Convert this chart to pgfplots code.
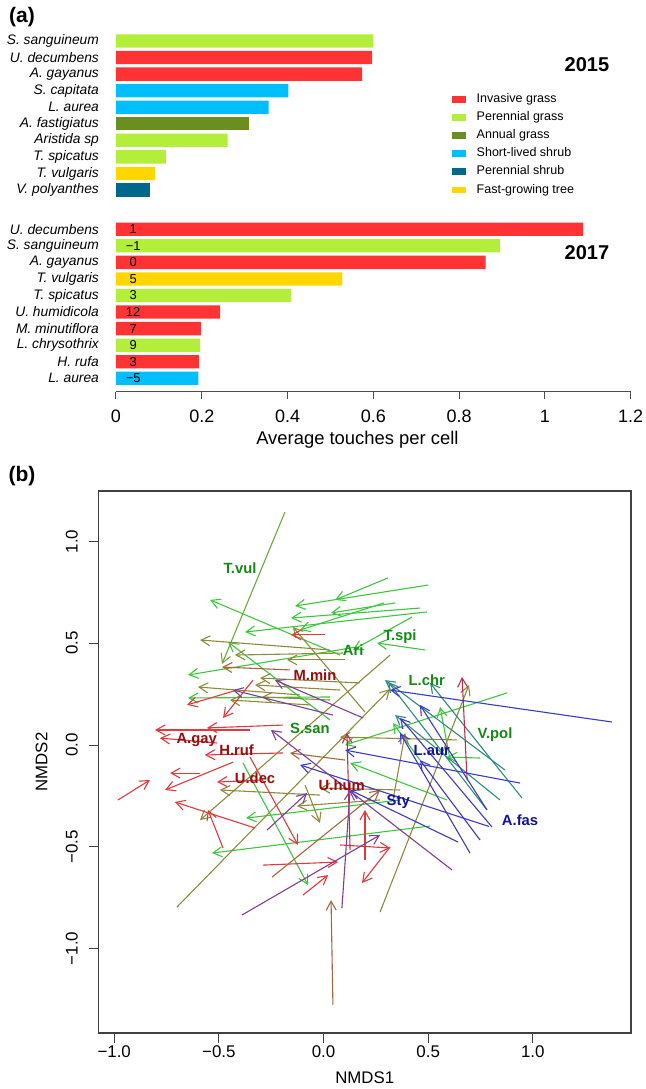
\documentclass[border=0pt]{standalone}
\usepackage{fontspec}
\setmainfont{Liberation Sans}
\usepackage{pgfplots}
\usepackage{pgfplotstable}
\pgfplotsset{compat=1.18}
\usetikzlibrary{arrows.meta}

\definecolor{invasive}{HTML}{FF3333}
\definecolor{pergrass}{HTML}{B3EE3A}
\definecolor{anngrass}{HTML}{6B8E23}
\definecolor{slshrub}{HTML}{00BFFF}
\definecolor{pershrub}{HTML}{00688B}
\definecolor{fasttree}{HTML}{FFD700}

\definecolor{arG}{HTML}{3CC83C}
\definecolor{arGO}{HTML}{70A83E}
\definecolor{arO}{HTML}{8E8A3C}
\definecolor{arBr}{HTML}{A5663A}
\definecolor{arR}{HTML}{E5383B}
\definecolor{arDR}{HTML}{B8304A}
\definecolor{arB}{HTML}{3A3AC8}
\definecolor{arP}{HTML}{7E3E96}
\definecolor{arT}{HTML}{2F8A7E}
\definecolor{labG}{HTML}{138A13}
\definecolor{labR}{HTML}{9A0C0C}
\definecolor{labB}{HTML}{12129A}

% panel (b): arrow tail (x,y) and displacement (u,v)
\pgfplotstableread{
x y u v
0.079 0.442 -0.621 0.271
0.495 0.654 -0.870 -0.099
0.461 0.673 -0.616 -0.049
0.342 0.698 -0.306 -0.049
0.031 0.123 -0.487 0.383
0.160 0.482 -0.807 -0.138
0.031 0.236 -0.678 -0.005
0.509 -0.398 -1.042 -0.133
-0.385 -0.088 0.311 -0.600
0.877 0.256 -0.774 -0.256
0.423 0.629 -0.282 -0.162
0.485 0.467 -0.229 0.034
0.289 0.698 -0.401 -0.133
0.605 -0.074 -0.048 0.261
0.461 -0.074 -0.129 0.182
0.590 -0.270 -0.463 0.182
0.366 -0.270 -0.736 -0.089
0.500 0.786 -0.636 -0.103
0.308 0.821 -0.253 -0.108
0.748 -0.064 -0.158 0.005
}\arrGreen

\pgfplotstableread{
x y u v
-0.184 1.145 -0.301 -0.747
}\arrGreenOlive

\pgfplotstableread{
x y u v
0.198 0.162 -0.344 0.418
0.093 0.452 -0.516 -0.010
-0.112 0.246 -0.488 0.039
-0.700 -0.796 1.018 1.071
0.270 -0.821 0.425 1.116
0.318 0.442 -0.908 -0.811
0.079 0.270 -0.406 0.025
0.638 0.025 -0.559 0.014
-0.017 -0.246 -0.478 0.025
0.270 -0.270 -0.397 -0.030
-0.088 -0.197 0.071 -0.186
0.103 0.418 -0.277 0.000
0.031 0.221 -0.325 0.015
0.332 -0.270 0.058 0.329
0.031 0.467 -0.621 0.049
0.174 0.305 -0.477 0.024
-0.065 0.197 -0.382 0.024
0.366 -0.221 -0.383 0.010
}\arrOlive

\pgfplotstableread{
x y u v
-0.160 0.369 -0.325 0.014
0.103 -0.074 -0.263 0.035
-0.246 -0.649 0.516 0.428
0.045 -1.278 -0.009 0.516
}\arrBrown

\pgfplotstableread{
x y u v
0.867 -0.123 -0.573 0.442
0.781 -0.319 -0.472 0.629
0.948 -0.260 -0.439 0.565
0.843 -0.270 -0.501 0.417
}\arrTeal

\pgfplotstableread{
x y u v
0.007 0.541 -0.162 0.000
-0.413 0.270 -0.239 -0.073
-0.337 0.319 -0.143 -0.186
-0.351 0.074 -0.454 0.000
-0.194 0.098 -0.363 -0.014
-0.509 0.010 -0.273 0.024
-0.194 -0.039 -0.373 -0.010
-0.590 -0.138 -0.143 0.000
-0.432 -0.084 -0.325 -0.137
-0.982 -0.270 0.153 0.098
-0.327 -0.408 -0.383 0.128
-0.480 -0.506 -0.072 0.187
-0.351 -0.059 0.229 -0.432
-0.289 -0.590 0.358 0.015
-0.098 -0.737 0.120 0.098
0.198 -0.565 0.000 0.246
0.318 -0.501 -0.134 -0.177
0.079 -0.491 0.239 -0.015
-0.303 -0.172 -0.206 -0.010
}\arrRed

\pgfplotstableread{
x y u v
0.686 -0.172 -0.024 0.506
0.127 -0.516 -0.015 0.575
}\arrDarkRed

\pgfplotstableread{
x y u v
1.378 0.113 -1.060 0.157
0.700 -0.531 -0.334 0.590
0.643 -0.477 -0.516 0.256
0.781 -0.319 -0.320 0.516
0.805 -0.403 -0.439 0.536
0.939 -0.187 -0.836 0.162
0.790 -0.400 -0.902 0.302
0.748 -0.467 -0.287 0.393
}\arrBlue

\pgfplotstableread{
x y u v
0.614 -0.614 -0.865 0.688
0.088 -0.801 0.039 0.580
-0.389 -0.835 0.659 0.393
-0.270 -0.418 0.191 0.182
0.045 0.147 -0.477 0.123
0.189 0.133 -0.421 0.186
}\arrPurple

\pgfplotsset{
  nmdsarrow/.style={line width=0.55pt, -{Straight Barb[length=4.5pt,width=5pt]},
    quiver={u=\thisrow{u}, v=\thisrow{v}}},
}
\tikzset{sitelab/.style={font=\bfseries\fontsize{7.4}{9}\selectfont}}

\begin{document}
\begin{tikzpicture}
\path[use as bounding box] (0,0) rectangle (323pt,-544.5pt);

% ---------- panel (a)
\begin{axis}[
  at={(58pt,-195.85pt)}, anchor=south west,
  scale only axis, width=257.35pt, height=180.58pt,
  xmin=0, xmax=1.2, ymin=-0.81, ymax=21,
  clip=false,
  xbar, bar width=6.65pt, bar shift=0pt,
  axis x line*=bottom, axis y line*=left,
  axis line style={-},
  x axis line style={draw=black!70, line width=0.5pt},
  y axis line style={draw=none},
  tick align=outside, major tick length=3.6pt,
  xtick style={draw=black!70, line width=0.5pt},
  ytick style={draw=none},
  xtick={0,0.2,0.4,0.6,0.8,1,1.2},
  xticklabels={0,0.2,0.4,0.6,0.8,1,1.2},
  xticklabel style={font=\fontsize{9}{10}\selectfont, anchor=center, yshift=-8.8pt},
  ytick={0,1,2,3,4,5,6,7,8,9,11.37,12.37,13.37,14.37,15.37,16.37,17.37,18.37,19.37,20.37},
  yticklabels={L. aurea,H. rufa,L. chrysothrix,M. minutiflora,U. humidicola,T. spicatus,T. vulgaris,A. gayanus,S. sanguineum,U. decumbens,V. polyanthes,T. vulgaris,T. spicatus,Aristida sp,A. fastigiatus,L. aurea,S. capitata,A. gayanus,U. decumbens,S. sanguineum},
  yticklabel style={font=\fontsize{6.9}{8}\selectfont\itshape, anchor=east, inner sep=0pt, xshift=-4.75pt},
  xlabel={Average touches per cell},
  xlabel style={at={(axis description cs:0.469,-0.1337)}, anchor=center, font=\fontsize{9.2}{11}\selectfont},
  legend image code/.code={\fill[#1] (0pt,-1.675pt) rectangle (6.85pt,1.675pt);},
  legend cell align=left,
  legend style={at={(axis description cs:0.6525,0.826)}, anchor=north west,
    draw=none, fill=none, inner sep=0pt, outer sep=0pt,
    font=\fontsize{6.25}{7}\selectfont, row sep=3.05pt,
    nodes={inner sep=0pt, text height=4.6pt, text depth=1.4pt},
    /tikz/every odd column/.append style={column sep=5.6pt}},
]
\addplot[fill=invasive, draw=none] coordinates {(0.597,19.37) (0.574,18.37) (1.089,9) (0.862,7) (0.243,4) (0.198,3) (0.193,1)};
\addlegendentry{Invasive grass}
\addplot[fill=pergrass, draw=none] coordinates {(0.600,20.37) (0.260,14.37) (0.117,13.37) (0.895,8) (0.408,5) (0.196,2)};
\addlegendentry{Perennial grass}
\addplot[fill=anngrass, draw=none] coordinates {(0.311,15.37)};
\addlegendentry{Annual grass}
\addplot[fill=slshrub, draw=none] coordinates {(0.402,17.37) (0.356,16.37) (0.192,0)};
\addlegendentry{Short-lived shrub}
\addplot[fill=pershrub, draw=none] coordinates {(0.080,11.37)};
\addlegendentry{Perennial shrub}
\addplot[fill=fasttree, draw=none] coordinates {(0.091,12.37) (0.528,6)};
\addlegendentry{Fast-growing tree}

\node[font=\bfseries\fontsize{10}{12}\selectfont] at (axis cs:1.098,18.92) {2015};
\node[font=\bfseries\fontsize{10}{12}\selectfont] at (axis cs:1.098,7.58) {2017};

\begin{scope}[every node/.style={font=\fontsize{6.45}{7}\selectfont, anchor=center}]
\node at (axis cs:0.04,9) {1};
\node at (axis cs:0.04,8) {−1};
\node at (axis cs:0.04,7) {0};
\node at (axis cs:0.04,6) {5};
\node at (axis cs:0.04,5) {3};
\node at (axis cs:0.04,4) {12};
\node at (axis cs:0.04,3) {7};
\node at (axis cs:0.04,2) {9};
\node at (axis cs:0.04,1) {3};
\node at (axis cs:0.04,0) {−5};
\end{scope}
\end{axis}

% ---------- panel (b)
\begin{axis}[
  at={(49.25pt,-516.5pt)}, anchor=south west,
  scale only axis, width=266.25pt, height=271pt,
  xmin=-1.075, xmax=1.469, ymin=-1.415, ymax=1.248,
  axis line style={draw=black!75, line width=0.55pt},
  xtick={-1,-0.5,0,0.5,1}, xticklabels={−1.0,−0.5,0.0,0.5,1.0},
  ytick={-1,-0.5,0,0.5,1}, yticklabels={−1.0,−0.5,0.0,0.5,1.0},
  xtick pos=lower, ytick pos=left, tick align=outside, major tick length=4.75pt,
  tick style={draw=black!75, line width=0.5pt},
  ticklabel style={font=\fontsize{8.45}{10}\selectfont},
  xticklabel style={anchor=center, yshift=-4.75pt},
  yticklabel style={rotate=90, anchor=center, yshift=8.65pt},
  xlabel={NMDS1}, ylabel={NMDS2},
  label style={font=\fontsize{8.4}{10}\selectfont},
  xlabel style={at={(axis description cs:0.5,-0.083)}, anchor=center},
  ylabel style={at={(axis description cs:-0.1067,0.5)}, anchor=center},
  no markers,
]
\addplot[arG, nmdsarrow] table {\arrGreen};
\addplot[arGO, nmdsarrow] table {\arrGreenOlive};
\addplot[arO, nmdsarrow] table {\arrOlive};
\addplot[arBr, nmdsarrow] table {\arrBrown};
\addplot[arT, nmdsarrow] table {\arrTeal};
\addplot[arR, nmdsarrow] table {\arrRed};
\addplot[arDR, nmdsarrow] table {\arrDarkRed};
\addplot[arB, nmdsarrow] table {\arrBlue};
\addplot[arP, nmdsarrow] table {\arrPurple};

\node[sitelab, text=labG] at (axis cs:-0.399,0.870) {T.vul};
\node[sitelab, text=labG] at (axis cs:0.142,0.467) {Ari};
\node[sitelab, text=labG] at (axis cs:0.366,0.532) {T.spi};
\node[sitelab, text=labR] at (axis cs:-0.041,0.344) {M.min};
\node[sitelab, text=labG] at (axis cs:0.493,0.319) {L.chr};
\node[sitelab, text=labG] at (axis cs:-0.065,0.082) {S.san};
\node[sitelab, text=labG] at (axis cs:0.819,0.049) {V.pol};
\node[sitelab, text=labR] at (axis cs:-0.606,0.025) {A.gay};
\node[sitelab, text=labR] at (axis cs:-0.415,-0.025) {H.ruf};
\node[sitelab, text=labB] at (axis cs:0.517,-0.025) {L.aur};
\node[sitelab, text=labR] at (axis cs:-0.327,-0.164) {U.dec};
\node[sitelab, text=labR] at (axis cs:0.087,-0.197) {U.hum};
\node[sitelab, text=labB] at (axis cs:0.357,-0.279) {Sty};
\node[sitelab, text=labB] at (axis cs:0.939,-0.369) {A.fas};
\end{axis}

\node[font=\bfseries\fontsize{10.5}{12}\selectfont] at (11pt,-8.5pt) {(a)};
\node[font=\bfseries\fontsize{10.5}{12}\selectfont] at (11pt,-238pt) {(b)};
\end{tikzpicture}
\end{document}
